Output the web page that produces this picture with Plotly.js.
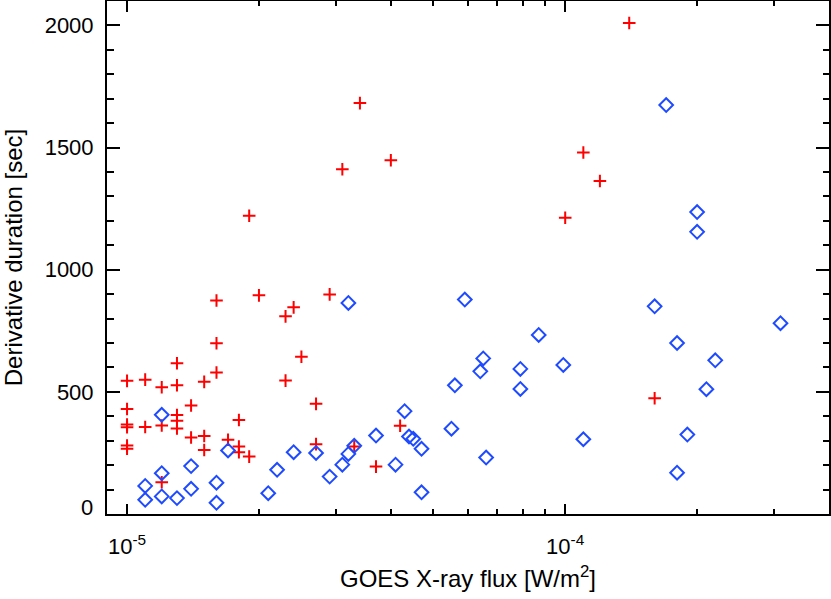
<!DOCTYPE html>
<html>
<head>
<meta charset="utf-8">
<script src="https://cdn.plot.ly/plotly-3.0.1.min.js"></script>
<style>
html,body{margin:0;padding:0;background:#fff;}
#chart{width:831px;height:599px;}
</style>
</head>
<body>
<div id="chart"></div>
<script>
// Red crosses
var redFlux = [
  1.0e-5,1.0e-5,1.0e-5,1.0e-5,1.0e-5,1.0e-5,
  1.1e-5,1.1e-5,
  1.2e-5,1.2e-5,1.2e-5,
  1.3e-5,1.3e-5,1.3e-5,1.3e-5,1.3e-5,
  1.4e-5,1.4e-5,
  1.5e-5,1.5e-5,1.5e-5,
  1.6e-5,1.6e-5,1.6e-5,
  1.7e-5,
  1.8e-5,1.8e-5,1.8e-5,
  1.9e-5,1.9e-5,
  2.0e-5,
  2.3e-5,2.3e-5,
  2.4e-5,
  2.5e-5,
  2.7e-5,2.7e-5,
  2.9e-5,
  3.1e-5,
  3.3e-5,
  3.4e-5,
  3.7e-5,
  4.0e-5,
  4.2e-5,
  1.0e-4,
  1.1e-4,
  1.2e-4,
  1.4e-4,
  1.6e-4
];
var redDur = [
  545,430,366,355,280,267,
  550,356,
  519,362,130,
  617,527,405,382,350,
  444,313,
  541,319,262,
  579,699,874,
  304,
  385,276,253,
  235,1221,
  895,
  809,546,
  846,
  644,
  451,286,
  899,
  1411,
  276,
  1682,
  194,
  1448,
  361,
  1213,
  1480,
  1363,
  2010,
  474
];

// Blue diamonds
var blueFlux = [
  1.1e-5,1.1e-5,
  1.2e-5,1.2e-5,1.2e-5,
  1.3e-5,
  1.4e-5,1.4e-5,
  1.6e-5,1.6e-5,
  1.7e-5,
  2.1e-5,
  2.2e-5,
  2.4e-5,
  2.7e-5,
  2.9e-5,
  3.1e-5,
  3.2e-5,3.2e-5,
  3.3e-5,
  3.7e-5,
  4.1e-5,
  4.3e-5,
  4.4e-5,
  4.5e-5,
  4.7e-5,4.7e-5,
  5.5e-5,
  5.6e-5,
  5.9e-5,
  6.4e-5,
  6.5e-5,
  6.6e-5,
  7.9e-5,7.9e-5,
  8.7e-5,
  9.9e-5,
  1.1e-4,
  1.6e-4,
  1.7e-4,
  1.8e-4,1.8e-4,
  1.9e-4,
  2.0e-4,2.0e-4,
  2.1e-4,
  2.2e-4,
  3.1e-4
];
var blueDur = [
  115,58,
  406,167,72,
  65,
  196,103,
  128,46,
  260,
  85,
  181,
  253,
  250,
  153,
  202,
  246,864,
  279,
  321,
  202,
  421,
  317,
  308,
  267,89,
  349,
  527,
  878,
  584,
  637,
  231,
  594,512,
  733,
  610,
  306,
  850,
  1674,
  700,169,
  325,
  1236,1155,
  511,
  629,
  781
];

var xMajorVals = [1e-5, 1e-4];
var xMajorText = ["10<sup>-5</sup>", "10<sup>-4</sup>"];
var xMinorVals = [2e-5,3e-5,4e-5,5e-5,6e-5,7e-5,8e-5,9e-5,2e-4,3e-4];
var yMajorVals = [0, 500, 1000, 1500, 2000];
var yMajorText = ["", "500", "1000", "1500", "2000"];
var yZeroLabel = "0";

var FONT = "Liberation Sans, Arial, Helvetica, sans-serif";
var TICKSIZE = 22;
var TITLESIZE = 24;

var traces = [
  {
    x: redFlux, y: redDur, type: "scatter", mode: "markers",
    marker: {symbol: "cross-thin-open", size: 9, color: "#ff0000",
             line: {color: "#ff0000", width: 2}},
    hoverinfo: "x+y", showlegend: false
  },
  {
    x: blueFlux, y: blueDur, type: "scatter", mode: "markers",
    marker: {symbol: "diamond-open", size: 10.5, color: "#1e4bff",
             line: {color: "#1e4bff", width: 2}},
    hoverinfo: "x+y", showlegend: false
  }
];

var layout = {
  width: 831, height: 599,
  margin: {l: 107, r: 2, t: 1, b: 85, pad: 0},
  paper_bgcolor: "#ffffff", plot_bgcolor: "#ffffff",
  font: {family: FONT, size: TICKSIZE, color: "#000"},
  xaxis: {
    type: "log",
    range: [Math.log10(9e-6), Math.log10(4e-4)],
    tickmode: "array", tickvals: xMajorVals, ticktext: xMajorText,
    ticks: "inside", ticklen: 10.5, tickwidth: 2, tickcolor: "#000",
    minor: {tickmode: "array", tickvals: xMinorVals, ticks: "inside",
            ticklen: 5, tickwidth: 2, tickcolor: "#000", showgrid: false},
    showline: true, linewidth: 2, linecolor: "#000", mirror: "ticks",
    showgrid: false, zeroline: false,
    ticklabelstandoff: 12,
    tickfont: {family: FONT, size: TICKSIZE, color: "#000"},
    title: {text: "GOES X-ray flux [W/m<sup>2</sup>]", standoff: 12,
            font: {family: FONT, size: TITLESIZE, color: "#000"}},
    automargin: false
  },
  yaxis: {
    range: [0, 2100],
    tickmode: "array", tickvals: yMajorVals, ticktext: yMajorText,
    ticks: "inside", ticklen: 13, tickwidth: 2, tickcolor: "#000",
    minor: {dtick: 100, ticks: "inside", ticklen: 6.5, tickwidth: 2,
            tickcolor: "#000", showgrid: false},
    showline: true, linewidth: 2, linecolor: "#000", mirror: "ticks",
    showgrid: false, zeroline: false,
    ticklabelstandoff: 7,
    tickfont: {family: FONT, size: TICKSIZE, color: "#000"},
    title: {text: "Derivative duration [sec]", standoff: 24,
            font: {family: FONT, size: TITLESIZE, color: "#000"}},
    automargin: false
  },
  annotations: [{
    xref: "paper", yref: "y", x: 0, y: 0, text: yZeroLabel,
    xanchor: "right", yanchor: "middle", xshift: -12, yshift: 7,
    showarrow: false, font: {family: FONT, size: TICKSIZE, color: "#000"}
  }]
};

Plotly.newPlot("chart", traces, layout, {displayModeBar: false, staticPlot: true});
</script>
</body>
</html>
